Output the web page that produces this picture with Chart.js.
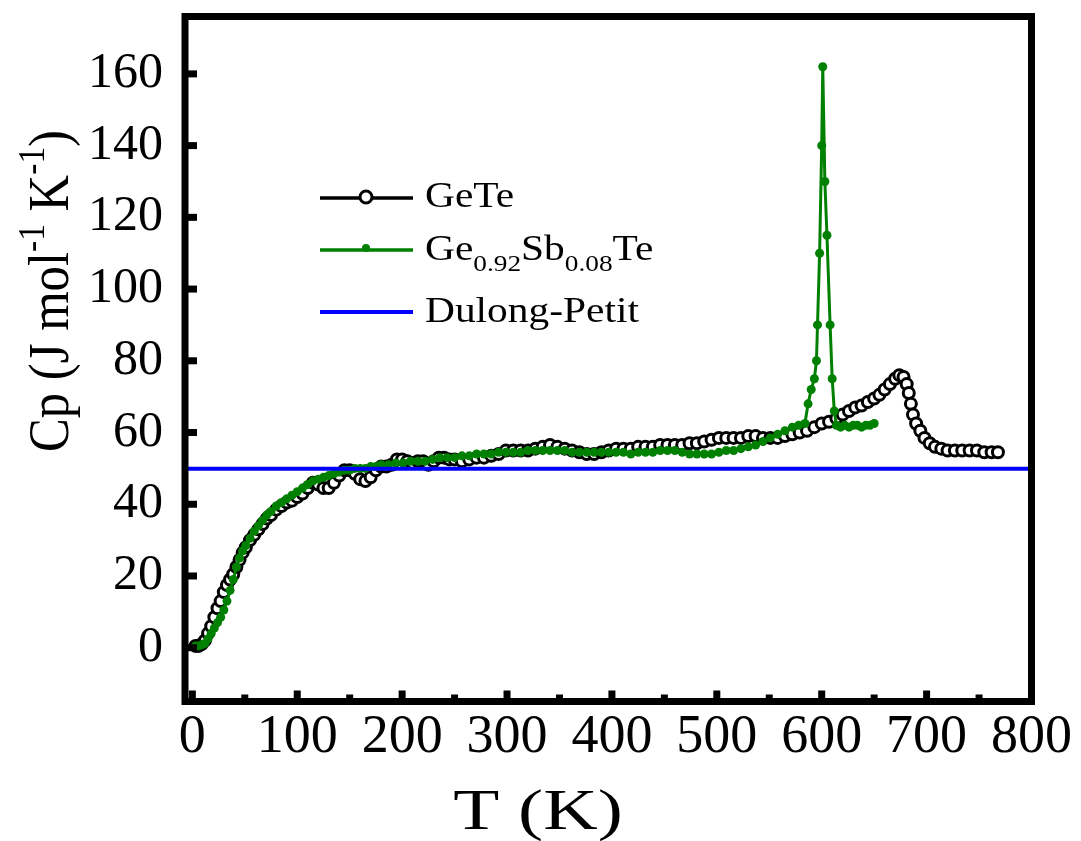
<!DOCTYPE html>
<html>
<head>
<meta charset="utf-8">
<script src="https://cdn.jsdelivr.net/npm/chart.js@4.4.1/dist/chart.umd.min.js"></script>
<style>
  html, body { margin: 0; padding: 0; background: #ffffff; }
  #wrap { width: 1081px; height: 841px; }
</style>
</head>
<body>
<div id="wrap"><canvas id="myChart"></canvas></div>
<script>
// GeTe (black open circles)
const geteT = [
    3, 6, 9, 12, 15, 18, 21, 24, 27, 30,
    33, 36, 39, 42, 45, 48, 51, 55, 59, 63,
    67, 71, 75, 80, 85, 90, 95, 100, 105, 110,
    115, 120, 125, 130, 135, 140, 145, 150, 155, 160,
    165, 170, 175, 180, 185, 190, 195, 200, 205, 210,
    215, 220, 225, 230, 235, 240, 245, 250, 257, 264,
    271, 278, 285, 292, 299, 306, 313, 320, 327, 334,
    341, 348, 355, 362, 369, 376, 383, 390, 397, 404,
    411, 418, 425, 432, 439, 446, 453, 460, 467, 474,
    481, 488, 495, 502, 509, 516, 523, 530, 537, 544,
    551, 558, 565, 572, 579, 586, 593, 600, 607, 614,
    620, 626, 632, 638, 644, 650, 655, 660, 665, 670,
    674, 678, 681, 683, 685, 687, 690, 694, 698, 703,
    708, 714, 720, 727, 734, 741, 748, 755, 762, 768
];
const geteCp = [
    0.5, 0.5, 1, 2, 4, 6, 8.5, 11, 13, 15.5,
    17.5, 19, 20.5, 22.5, 24.5, 26.5, 28, 30, 31.5, 33,
    34.5, 36, 37, 38.5, 39.5, 40.5, 41, 42, 43, 44.5,
    46, 45.5, 44.5, 44.5, 46, 48, 49.5, 49.5, 48.5, 47,
    46.5, 47.5, 49.5, 50.5, 50.5, 51, 52.5, 52.5, 52, 51.5,
    52, 52, 51, 52, 53, 53, 52.5, 52.5, 52, 52.5,
    53, 53, 53.5, 54, 55, 55, 55, 55, 55.5, 56,
    56.5, 56, 55.5, 55, 54.5, 54, 54, 54.5, 55, 55.5,
    55.5, 55.5, 56, 56, 56, 56.5, 56.5, 56.5, 56.5, 57,
    57, 57.5, 58, 58.5, 58.5, 58.5, 58.5, 59, 59, 58.5,
    58.5, 58.5, 59, 59.5, 60, 60.5, 61.5, 62.5, 63, 64,
    65, 66, 67, 67.5, 68.5, 69.5, 70.5, 72, 73.5, 75,
    76, 75.5, 73.5, 71, 68, 65, 62.5, 60.5, 58.5, 57,
    56, 55.5, 55, 55, 55, 55, 55, 54.5, 54.5, 54.5
];

// Ge0.92Sb0.08Te (green filled dots)
const sbT = [
    3, 6, 9, 12, 15, 18, 21, 24, 27, 30,
    33, 36, 39, 42, 45, 48, 51, 55, 59, 63,
    67, 71, 75, 80, 85, 90, 95, 100, 105, 110,
    115, 120, 125, 130, 135, 140, 145, 150, 155, 160,
    165, 170, 175, 180, 187, 194, 201, 208, 215, 222,
    229, 236, 243, 250, 257, 264, 271, 278, 285, 292,
    299, 306, 313, 320, 327, 334, 341, 348, 355, 362,
    369, 376, 383, 390, 397, 404, 411, 418, 425, 432,
    439, 446, 453, 460, 467, 474, 481, 488, 495, 502,
    509, 516, 523, 530, 537, 544, 551, 558, 565, 572,
    578, 584, 587, 590, 593, 595, 596, 598, 600, 601,
    603, 605, 608, 610, 612, 614, 618, 622, 626, 630,
    634, 638, 642, 646, 650
];
const sbCp = [
    0.5, 0.5, 0.8, 1.2, 2.5, 4, 5.5, 7, 8.5, 10.5,
    13, 16, 19, 22.5, 25, 27, 28.5, 30.5, 32.5, 34,
    35.5, 37, 38, 39.5, 40.5, 41.5, 42.5, 43.5, 44.5, 45.5,
    46.5, 47, 47.5, 48, 48.5, 49, 49.5, 49.5, 50, 50,
    50, 50.5, 50.5, 51, 51, 51.5, 51.5, 52, 52, 52,
    52.5, 53, 53, 53, 53.5, 53.5, 54, 54, 54, 54.5,
    54.5, 54.5, 54.5, 55, 55, 55, 55, 55, 55, 54.5,
    54.5, 54.5, 54.5, 54.5, 54.5, 54.5, 54.5, 54, 54.5, 54.5,
    54.5, 55, 55, 55, 54.5, 54, 54, 54, 54, 54.5,
    55, 55, 55.5, 56, 56.5, 57.5, 58.5, 59.5, 60.5, 61.5,
    62, 62.5, 68, 72, 75, 80, 90, 110, 140, 162,
    130, 115, 90, 75, 66, 62, 61.5, 62, 61.5, 62,
    62, 61.5, 62, 62, 62.5
];

// Dulong-Petit limit
const dulongT = [-7, 800];
const dulongCp = [49.9, 49.9];

// axis ticks
const yTickValues = [0, 20, 40, 60, 80, 100, 120, 140, 160];
const xMajorTicks = [0, 100, 200, 300, 400, 500, 600, 700, 800];
const xMinorTicks = [50, 150, 250, 350, 450, 550, 650, 750];

const serif = "'Liberation Serif', 'Times New Roman', serif";

function toPoints(xs, ys) {
    return xs.map((x, i) => ({ x: x, y: ys[i] }));
}

// draws text pieces with sub/superscripts, stretched horizontally by sx
function drawRich(ctx, parts, size, sx, draw) {
    let x = 0;
    parts.forEach(([text, kind]) => {
        const s = kind ? size * 0.66 : size;
        ctx.font = `${s}px ${serif}`;
        const dy = kind === 1 ? size * 0.3 : (kind === 2 ? -size * 0.42 : 0);
        if (draw) {
            ctx.save();
            ctx.scale(sx, 1);
            ctx.fillText(text, x / sx, dy);
            ctx.restore();
        }
        x += ctx.measureText(text).width * sx;
    });
    return x;
}

const framePlugin = {
    id: 'frame',
    afterDraw(chart) {
        const { ctx, chartArea: a, scales: { x, y } } = chart;
        ctx.save();
        ctx.fillStyle = '#000';
        yTickValues.forEach(v => {
            const py = y.getPixelForValue(v);
            ctx.fillRect(a.left, py - 3.5, 12, 7);
        });
        xMajorTicks.forEach(v => {
            const px = x.getPixelForValue(v);
            ctx.fillRect(px - 3.5, a.bottom - 11, 7, 11);
        });
        xMinorTicks.forEach(v => {
            const px = x.getPixelForValue(v);
            ctx.fillRect(px - 3.5, a.bottom - 7, 7, 7);
        });
        ctx.lineWidth = 7;
        ctx.strokeStyle = '#000';
        ctx.strokeRect(a.left, a.top, a.right - a.left, a.bottom - a.top);
        ctx.restore();
    }
};

const textPlugin = {
    id: 'texts',
    afterDraw(chart) {
        const ctx = chart.ctx;
        ctx.save();
        ctx.fillStyle = '#000';
        ctx.textBaseline = 'alphabetic';
        ctx.textAlign = 'left';

        // legend
        const lx0 = 320, lx1 = 413, tx = 425;
        ctx.lineWidth = 3.5;
        ctx.strokeStyle = '#000';
        ctx.beginPath(); ctx.moveTo(lx0, 198); ctx.lineTo(lx1, 198); ctx.stroke();
        ctx.beginPath(); ctx.arc(366, 197, 6, 0, Math.PI * 2);
        ctx.fillStyle = '#fff'; ctx.fill();
        ctx.lineWidth = 3; ctx.stroke();
        ctx.strokeStyle = '#008000'; ctx.lineWidth = 3.5;
        ctx.beginPath(); ctx.moveTo(lx0, 250); ctx.lineTo(lx1, 250); ctx.stroke();
        ctx.fillStyle = '#008000';
        ctx.beginPath(); ctx.arc(366, 248, 4, 0, Math.PI * 2); ctx.fill();
        ctx.strokeStyle = '#0000ff'; ctx.lineWidth = 4;
        ctx.beginPath(); ctx.moveTo(lx0, 312); ctx.lineTo(lx1, 312); ctx.stroke();

        ctx.fillStyle = '#000';
        const rows = [
            [[['GeTe', 0]], 207],
            [[['Ge', 0], ['0.92', 1], ['Sb', 0], ['0.08', 1], ['Te', 0]], 260],
            [[['Dulong-Petit', 0]], 322]
        ];
        rows.forEach(([parts, by]) => {
            ctx.save();
            ctx.translate(tx, by);
            drawRich(ctx, parts, 36, 1.15, true);
            ctx.restore();
        });

        // x axis title
        const xParts = [['T (K)', 0]];
        const xw = drawRich(ctx, xParts, 58, 1.3, false);
        ctx.save();
        ctx.translate(538 - xw / 2, 829);
        drawRich(ctx, xParts, 58, 1.3, true);
        ctx.restore();

        // y axis title, rotated
        const yParts = [['Cp (J mol', 0], ['-1', 2], [' K', 0], ['-1', 2], [')', 0]];
        const natural = drawRich(ctx, yParts, 58, 1, false);
        const sl = 322 / natural;
        ctx.save();
        ctx.translate(68, 452);
        ctx.rotate(-Math.PI / 2);
        drawRich(ctx, yParts, 58, sl, true);
        ctx.restore();

        ctx.restore();
    }
};

const ctx = document.getElementById('myChart').getContext('2d');

new Chart(ctx, {
    type: 'line',
    data: {
        datasets: [
            {
                label: 'Dulong-Petit',
                data: toPoints(dulongT, dulongCp),
                borderColor: '#0000ff',
                borderWidth: 4,
                pointRadius: 0,
                fill: false
            },
            {
                label: 'Ge0.92Sb0.08Te',
                data: toPoints(sbT, sbCp),
                borderColor: '#008000',
                backgroundColor: '#008000',
                borderWidth: 3,
                pointRadius: 4.5,
                pointBorderWidth: 0,
                pointBackgroundColor: '#008000',
                fill: false,
                tension: 0
            },
            {
                label: 'GeTe',
                data: toPoints(geteT, geteCp),
                borderColor: '#000000',
                borderWidth: 3.5,
                pointRadius: 5.5,
                pointBorderWidth: 3,
                pointBorderColor: '#000000',
                pointBackgroundColor: '#ffffff',
                fill: false,
                tension: 0
            }
        ]
    },
    options: {
        responsive: true,
        maintainAspectRatio: false,
        animation: false,
        events: [],
        layout: { padding: { top: 16.5, right: 49.5, left: 0, bottom: 0 } },
        scales: {
            x: {
                type: 'linear',
                min: -7,
                max: 800,
                afterBuildTicks: s => { s.ticks = xMajorTicks.map(v => ({ value: v })); },
                afterFit: s => { s.height = 139.5; s.paddingLeft = 0; s.paddingRight = 0; },
                grid: { display: false, drawTicks: false },
                border: { display: false },
                ticks: {
                    autoSkip: false,
                    maxRotation: 0,
                    minRotation: 0,
                    padding: 4,
                    color: '#000',
                    font: { family: serif, size: 54 }
                }
            },
            y: {
                type: 'linear',
                min: -15,
                max: 176,
                afterBuildTicks: s => { s.ticks = yTickValues.map(v => ({ value: v })); },
                afterFit: s => { s.width = 185; s.paddingTop = 0; s.paddingBottom = 0; },
                grid: { display: false, drawTicks: false },
                border: { display: false },
                ticks: {
                    autoSkip: false,
                    padding: 22,
                    color: '#000',
                    font: { family: serif, size: 50 }
                }
            }
        },
        plugins: {
            legend: { display: false },
            tooltip: { enabled: false }
        }
    },
    plugins: [framePlugin, textPlugin]
});
</script>
</body>
</html>
